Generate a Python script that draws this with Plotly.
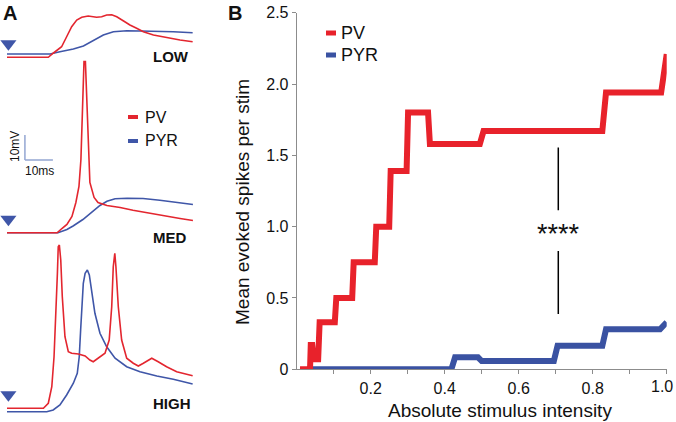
import plotly.graph_objects as go

W, H = 676, 422
FONT = "Liberation Sans, Arial, Helvetica, sans-serif"
RED_B = "#e8222b"
BLUE_B = "#3a52a2"
RED_A = "#e3262f"
BLUE_A = "#3f56a8"
SCALE_C = "#93a6d2"

# ---------------- Panel B data ----------------
pv_x = [0.009, 0.036, 0.038, 0.042, 0.046, 0.058, 0.062, 0.103, 0.107, 0.150, 0.154, 0.211,
        0.215, 0.250, 0.254, 0.297, 0.301, 0.355, 0.360, 0.495, 0.505, 0.826, 0.836, 0.985, 1.0]
pv_y = [0, 0, 0.17, 0.17, 0.07, 0.07, 0.33, 0.33, 0.50, 0.50, 0.75, 0.75,
        1.00, 1.00, 1.39, 1.39, 1.80, 1.80, 1.58, 1.58, 1.67, 1.67, 1.94, 1.94, 2.21]
pyr_x = [0.040, 0.418, 0.428, 0.490, 0.500, 0.695, 0.705, 0.826, 0.836, 0.982, 1.0]
pyr_y = [0, 0, 0.084, 0.084, 0.058, 0.058, 0.165, 0.165, 0.28, 0.28, 0.33]

x_ticks = [0.1, 0.2, 0.3, 0.4, 0.5, 0.6, 0.7, 0.8, 0.9, 1.0]
x_ticktext = ["", "0.2", "", "0.4", "", "0.6", "", "0.8", "", ""]
x_last_label = "1.0"    # drawn flush with the right edge so it is not cut off
y_ticks = [0, 0.5, 1.0, 1.5, 2.0, 2.5]
y_ticktext = ["0", "0.5", "1.0", "1.5", "2.0", "2.5"]

sig_x = 0.707
sig_low = [0.387, 0.83]
sig_high = [1.115, 1.555]
sig_label_y = 0.95

# ---------------- Panel A data (time ms, deflection mV) ----------------
low_pv_t = [0, 14.75, 16.5, 19.5, 21.3, 23.1, 24.9, 26.7, 29.0, 32.0, 33.8, 35.6, 37.4, 39.2,
            41.5, 43.9, 46.3, 48.7, 52.3, 57.0, 61.8, 66.3]
low_pv_v = [0, 0, 1.6, 4.2, 8.2, 12.2, 14.9, 16.0, 16.5, 16.0, 16.2, 16.9, 17.0, 16.2,
            14.6, 12.9, 11.6, 10.2, 8.9, 7.8, 6.9, 6.2]
low_pyr_t = [0, 15.4, 18.9, 23.7, 27.3, 30.8, 34.4, 38.0, 42.8, 47.5, 52.3, 59.4, 66.3]
low_pyr_v = [1.3, 1.3, 2.2, 3.3, 4.5, 6.6, 8.9, 10.2, 10.6, 10.5, 10.5, 10.2, 9.8]

med_pv_t = [0, 17.9, 19.6, 21.4, 23.2, 24.6, 25.7, 26.4, 26.96, 27.5, 28.0, 28.6, 29.1, 29.6,
            31.1, 32.5, 35.7, 40.4, 45.0, 51.1, 57.1, 61.8, 66.4]
med_pv_v = [0, 0, 1.7, 3.3, 6.5, 12.1, 18.5, 29.3, 49.3, 68.5, 68.5, 49.3, 29.3, 20.1,
            14.1, 12.1, 10.9, 10.1, 9.0, 7.7, 6.6, 5.7, 4.9]
med_pyr_t = [0, 18.2, 21.4, 23.6, 27.1, 30.7, 33.2, 35.7, 38.6, 42.9, 48.6, 54.6, 60.7, 66.4]
med_pyr_v = [0, 0, 1.3, 2.7, 5.3, 8.6, 10.9, 12.6, 13.6, 13.8, 13.7, 13.0, 12.2, 11.3]

high_pv_t = [0, 13.0, 14.75, 16.0, 16.8, 17.5, 18.0, 18.3, 18.7, 19.2, 19.75, 20.7, 21.9, 23.1,
             25.5, 27.9, 29.6, 30.8, 32.6, 35.0, 36.5, 37.4, 37.95, 38.5, 38.9, 39.75, 40.95,
             42.75, 45.1, 46.9, 48.7, 51.7, 54.0, 57.0, 60.6, 63.6, 66.3]
high_pv_v = [0, 0, 2.0, 8.6, 20.6, 38.0, 54.0, 64.6, 65.3, 59.3, 44.6, 28.6, 22.6, 22.0,
             21.7, 20.9, 19.3, 18.6, 20.0, 22.0, 27.3, 40.6, 56.6, 62.0, 56.6, 40.6, 27.3,
             20.0, 18.0, 16.9, 18.0, 20.0, 18.6, 16.6, 14.6, 13.7, 13.0]
high_pyr_t = [0, 14.2, 16.5, 18.9, 21.3, 23.7, 25.1, 25.8, 26.3, 26.8, 27.25, 27.9, 28.7, 29.4,
              30.25, 31.4, 33.2, 35.6, 38.6, 42.75, 47.5, 53.5, 59.4, 66.3]
high_pyr_v = [-1.4, -1.4, -0.7, 1.3, 5.3, 10.0, 14.0, 20.6, 31.3, 42.0, 50.0, 54.0, 55.3, 53.3,
              47.3, 38.0, 30.0, 24.6, 20.0, 16.6, 14.6, 12.9, 11.6, 9.7]

conditions = ["LOW", "MED", "HIGH"]
row_offset = {"LOW": 145.9, "MED": 75.7, "HIGH": 5.5}   # vertical stacking of the traces (mV units)
stim_t = 0.5            # stimulus arrow time (ms)
stim_v = 5.4            # arrow height above baseline (mV)

traces_A = {
    "LOW": (low_pv_t, low_pv_v, low_pyr_t, low_pyr_v),
    "MED": (med_pv_t, med_pv_v, med_pyr_t, med_pyr_v),
    "HIGH": (high_pv_t, high_pv_v, high_pyr_t, high_pyr_v),
}

PX_PER_MS = 2.8
PX_PER_MV = 2.5
A_WIDTH_PX = 210
A_T0 = -2.5


def px(x):
    return x / W


def py(y):
    return 1 - y / H


fig = go.Figure()

# ---- Panel A traces ----
for c in conditions:
    pt, pv, yt, yv = traces_A[c]
    off = row_offset[c]
    fig.add_trace(go.Scatter(x=yt, y=[v + off for v in yv], mode="lines",
                             line=dict(color=BLUE_A, width=1.6), xaxis="x2", yaxis="y2",
                             showlegend=False, hoverinfo="skip"))
    fig.add_trace(go.Scatter(x=pt, y=[v + off for v in pv], mode="lines",
                             line=dict(color=RED_A, width=1.6), xaxis="x2", yaxis="y2",
                             showlegend=False, hoverinfo="skip"))
    fig.add_trace(go.Scatter(x=[stim_t], y=[off + stim_v], mode="markers",
                             marker=dict(symbol="triangle-down", size=14, color=BLUE_A),
                             xaxis="x2", yaxis="y2", showlegend=False, hoverinfo="skip",
                             cliponaxis=False))

# ---- Panel B traces ----
fig.add_trace(go.Scatter(x=pyr_x, y=pyr_y, mode="lines", line=dict(color=BLUE_B, width=6),
                         showlegend=False, hoverinfo="skip"))
fig.add_trace(go.Scatter(x=pv_x, y=pv_y, mode="lines", line=dict(color=RED_B, width=6),
                         showlegend=False, hoverinfo="skip"))

# significance bar
shapes = [
    dict(type="line", xref="x", yref="y", x0=sig_x, x1=sig_x, y0=sig_low[0], y1=sig_low[1],
         line=dict(color="black", width=1.5)),
    dict(type="line", xref="x", yref="y", x0=sig_x, x1=sig_x, y0=sig_high[0], y1=sig_high[1],
         line=dict(color="black", width=1.5)),
]

# scale bar in panel A (10 mV, 10 ms)
sb_t, sb_v = 6.4, 104.8
shapes += [
    dict(type="line", xref="x2", yref="y2", x0=sb_t, x1=sb_t, y0=sb_v, y1=sb_v + 10,
         line=dict(color=SCALE_C, width=1.5)),
    dict(type="line", xref="x2", yref="y2", x0=sb_t, x1=sb_t + 10, y0=sb_v, y1=sb_v,
         line=dict(color=SCALE_C, width=1.5)),
]

# manual legends
legA = [("PV", RED_A, 117), ("PYR", BLUE_A, 141)]
legB = [("PV", RED_B, 33), ("PYR", BLUE_B, 55)]
annotations = []
for name, col, yy in legA:
    shapes.append(dict(type="line", xref="paper", yref="paper", x0=px(128), x1=px(138),
                       y0=py(yy), y1=py(yy), line=dict(color=col, width=4)))
    annotations.append(dict(x=px(143), y=py(yy), xref="paper", yref="paper", text=name,
                            showarrow=False, xanchor="left", yanchor="middle",
                            font=dict(size=16, color="#111", family=FONT)))
for name, col, yy in legB:
    shapes.append(dict(type="line", xref="paper", yref="paper", x0=px(326), x1=px(336),
                       y0=py(yy), y1=py(yy), line=dict(color=col, width=5)))
    annotations.append(dict(x=px(339), y=py(yy), xref="paper", yref="paper", text=name,
                            showarrow=False, xanchor="left", yanchor="middle",
                            font=dict(size=18, color="#111", family=FONT)))


def txt(x, y, s, size, bold=False, angle=0, xanchor="center", yanchor="middle", color="#111"):
    annotations.append(dict(x=px(x), y=py(y), xref="paper", yref="paper",
                            text=f"<b>{s}</b>" if bold else s, showarrow=False,
                            xanchor=xanchor, yanchor=yanchor, textangle=angle,
                            font=dict(size=size, color=color, family=FONT)))


txt(1, 0, "A", 20, bold=True, xanchor="left", yanchor="top")
txt(226, 0, "B", 20, bold=True, xanchor="left", yanchor="top")
txt(171, 56, "LOW", 15, bold=True)
txt(170, 237, "MED", 15, bold=True)
txt(172, 403, "HIGH", 15, bold=True)
txt(15, 147, "10mV", 12, angle=-90)
txt(39, 171, "10ms", 12)
txt(500, 410, "Absolute stimulus intensity", 19)
txt(243, 202, "Mean evoked spikes per stim", 19, angle=-90)
txt(675, 386, x_last_label, 16, xanchor="right")
annotations.append(dict(x=sig_x, y=sig_label_y, xref="x", yref="y", text="****",
                        showarrow=False, xanchor="center", yanchor="middle",
                        font=dict(size=27, color="#111", family=FONT)))

axis_col = "#8c8c8c"
fig.update_layout(
    width=W, height=H, margin=dict(l=0, r=0, t=0, b=0, pad=0, autoexpand=False),
    paper_bgcolor="white", plot_bgcolor="rgba(0,0,0,0)",
    font=dict(family=FONT, color="#111"),
    xaxis=dict(domain=[296.7 / W, 666.7 / W], range=[0, 1], showgrid=False, zeroline=False,
               showline=True, linecolor=axis_col, linewidth=1, ticks="outside", ticklen=4,
               tickcolor=axis_col, tickvals=x_ticks, ticktext=x_ticktext, automargin=False,
               ticklabeloverflow="allow", tickfont=dict(size=16, color="#111")),
    yaxis=dict(domain=[(H - 369.3) / H, (H - 12.7) / H], range=[0, 2.5], showgrid=False,
               zeroline=False, showline=True, linecolor=axis_col, linewidth=1, ticks="outside",
               ticklen=4, tickcolor=axis_col, tickvals=y_ticks, ticktext=y_ticktext,
               automargin=False, ticklabeloverflow="allow",
               tickfont=dict(size=16, color="#111")),
    xaxis2=dict(domain=[0, A_WIDTH_PX / W], automargin=False,
                range=[A_T0, A_T0 + A_WIDTH_PX / PX_PER_MS], visible=False, anchor="y2"),
    yaxis2=dict(domain=[0, 1], range=[0, H / PX_PER_MV], visible=False, anchor="x2",
                automargin=False),
    shapes=shapes, annotations=annotations,
)

fig.write_html("out.html", config={"displayModeBar": False},
               post_script="document.body.style.margin='0';document.body.style.padding='0';"
                           "document.body.style.overflow='hidden';")
